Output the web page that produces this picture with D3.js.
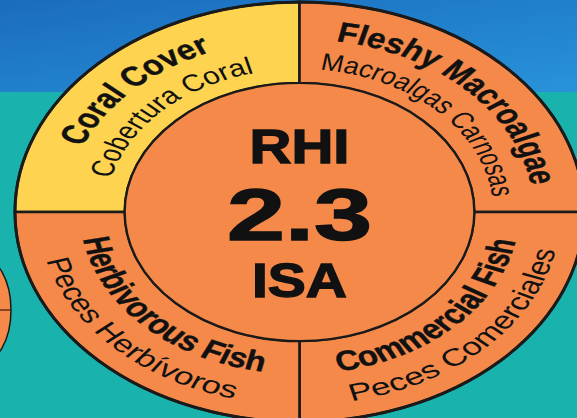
<!DOCTYPE html>
<html>
<head>
<meta charset="utf-8">
<script src="https://cdn.jsdelivr.net/npm/d3@7"></script>
<style>
  html, body { margin: 0; padding: 0; background: #19b2ac; }
  svg { display: block; }
</style>
</head>
<body>
<div id="chart"></div>
<script>
// indicator names (english / spanish) and their grade 1..5
const categories = ["Coral Cover", "Fleshy Macroalgae", "Commercial Fish", "Herbivorous Fish"];
const categoriesEs = ["Cobertura Coral", "Macroalgas Carnosas", "Peces Comerciales", "Peces Herbívoros"];
const scores = [3, 2, 2, 2];
const indexValue = 2.3;
const indexLabel = ["RHI", "ISA"];
const gradeColors = ["#d7322b", "#f48949", "#fdd34f", "#9ccc5a", "#2f9d4a"];

const width = 577, height = 418;
const cx = 299.5, cy = 212;
const sx = 1.355;          // the wheel is stretched sideways
const rOuter = 210, rInner = 129;

// how many degrees of ring each spanish label covers
const lightSpan = [63, 78, 67, 61];

const color = d3.scaleOrdinal().domain([1, 2, 3, 4, 5]).range(gradeColors);

const svg = d3.select("#chart").append("svg")
  .attr("width", width)
  .attr("height", height);

const defs = svg.append("defs");
const grad = defs.append("linearGradient")
  .attr("id", "sky")
  .attr("x1", "0%").attr("y1", "0%")
  .attr("x2", "100%").attr("y2", "100%");
grad.append("stop").attr("offset", "0%").attr("stop-color", "#1a6cbc");
grad.append("stop").attr("offset", "100%").attr("stop-color", "#2893da");

// background bands
svg.append("rect").attr("width", width).attr("height", height).attr("fill", "#19b2ac");
svg.append("rect").attr("width", width).attr("height", 92).attr("fill", "url(#sky)");

// piece of the neighbouring wheel on the left edge
svg.append("ellipse")
  .attr("cx", -20).attr("cy", 310)
  .attr("rx", 31).attr("ry", 54)
  .attr("fill", "#f48949")
  .attr("stroke", "#1a1a1a")
  .attr("stroke-width", 1.5);
svg.append("line")
  .attr("x1", 0).attr("x2", 11)
  .attr("y1", 310).attr("y2", 310)
  .attr("stroke", "#3a1a10")
  .attr("stroke-width", 1.2);

const g = svg.append("g")
  .attr("transform", `translate(${cx},${cy}) scale(${sx},1)`);

const pie = d3.pie()
  .value(1)
  .sort(null)
  .startAngle(-Math.PI / 2)
  .endAngle(Math.PI * 1.5);

const arcs = pie(categories.map((c, i) => ({ name: c, es: categoriesEs[i], score: scores[i] })));

const arc = d3.arc().innerRadius(rInner).outerRadius(rOuter);

g.selectAll("path.seg")
  .data(arcs)
  .enter().append("path")
  .attr("class", "seg")
  .attr("d", arc)
  .attr("fill", d => color(d.data.score))
  .attr("stroke", "#1a1a1a")
  .attr("stroke-width", 2.6)
  .attr("vector-effect", "non-scaling-stroke");

// centre disc, coloured by the overall index
g.append("circle")
  .attr("r", rInner)
  .attr("fill", color(Math.round(indexValue)))
  .attr("stroke", "#1a1a1a")
  .attr("stroke-width", 2.2)
  .attr("vector-effect", "non-scaling-stroke");

g.append("circle")
  .attr("r", rOuter)
  .attr("fill", "none")
  .attr("stroke", "#1a1a1a")
  .attr("stroke-width", 3)
  .attr("vector-effect", "non-scaling-stroke");

// text paths along the ring
function arcPath(r, a0, a1, bottom) {
  const p = a => [r * Math.sin(a), -r * Math.cos(a)];
  if (!bottom) {
    const [x0, y0] = p(a0), [x1, y1] = p(a1);
    return `M${x0},${y0} A${r},${r} 0 0 1 ${x1},${y1}`;
  }
  const [x0, y0] = p(a1), [x1, y1] = p(a0);
  return `M${x0},${y0} A${r},${r} 0 0 0 ${x1},${y1}`;
}

const lab = {
  top:    { bold: 173, light: 143 },
  bottom: { bold: 162, light: 193 }
};

arcs.forEach((d, i) => {
  const mid = (d.startAngle + d.endAngle) / 2;
  const bottom = Math.cos(mid) < 0;
  const pos = bottom ? lab.bottom : lab.top;

  // english, bold, a bit condensed
  defs.append("path").attr("id", `tp${i}b`)
    .attr("d", arcPath(pos.bold, d.startAngle, d.endAngle, bottom));
  const tb = g.append("text")
    .attr("font-family", "'Liberation Sans', Arial, sans-serif")
    .attr("font-size", 28)
    .attr("font-weight", 700)
    .attr("fill", "#111")
    .attr("stroke", "#111")
    .attr("stroke-width", 0.4)
    .append("textPath")
    .attr("href", `#tp${i}b`)
    .attr("startOffset", "50%")
    .attr("text-anchor", "middle")
    .text(d.data.name);
  tb.attr("textLength", tb.node().getComputedTextLength() * 0.87)
    .attr("lengthAdjust", "spacingAndGlyphs");

  // spanish, regular
  defs.append("path").attr("id", `tp${i}l`)
    .attr("d", arcPath(pos.light, d.startAngle, d.endAngle, bottom));
  g.append("text")
    .attr("font-family", "'Liberation Sans', Arial, sans-serif")
    .attr("font-size", 24)
    .attr("fill", "#111")
    .append("textPath")
    .attr("href", `#tp${i}l`)
    .attr("startOffset", "50%")
    .attr("text-anchor", "middle")
    .attr("textLength", lightSpan[i] * Math.PI / 180 * pos.light)
    .attr("lengthAdjust", "spacingAndGlyphs")
    .text(d.data.es);
});

// centre labels
const centre = [
  { t: indexLabel[0], y: 163, fs: 49, w: 100 },
  { t: d3.format(".1f")(indexValue), y: 240, fs: 73, w: 145 },
  { t: indexLabel[1], y: 297, fs: 49, w: 95 }
];
svg.selectAll("text.centre")
  .data(centre)
  .enter().append("text")
  .attr("class", "centre")
  .attr("x", cx)
  .attr("y", d => d.y)
  .attr("text-anchor", "middle")
  .attr("font-family", "'Liberation Sans', Arial, sans-serif")
  .attr("font-weight", 700)
  .attr("font-size", d => d.fs)
  .attr("textLength", d => d.w)
  .attr("lengthAdjust", "spacingAndGlyphs")
  .attr("fill", "#111")
  .attr("stroke", "#111")
  .attr("stroke-width", 1.4)
  .text(d => d.t);
</script>
</body>
</html>
